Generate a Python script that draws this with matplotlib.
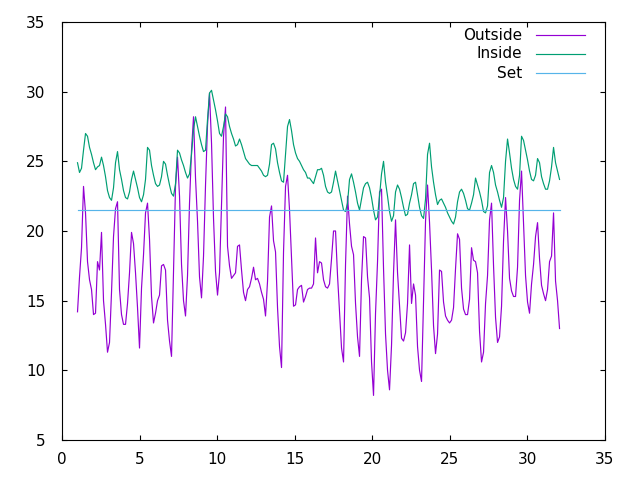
import numpy as np
import matplotlib
matplotlib.use("Agg")
import matplotlib.pyplot as plt
from matplotlib.lines import Line2D

# temperatures, one sample every ~0.13 time units
outside = [
    14.2, 16.7, 18.8, 23.2, 21.3, 17.8, 16.5, 15.8, 14.0, 14.1,
    17.8, 17.2, 19.9, 15.0, 13.3, 11.3, 12.0, 15.6, 19.6, 21.6,
    22.1, 15.8, 14.0, 13.3, 13.3, 14.8, 17.0, 19.9, 19.1, 17.0,
    14.5, 11.6, 15.9, 18.3, 21.3, 22.0, 19.4, 15.3, 13.4,
    14.1, 15.0, 15.4, 17.5, 17.6, 17.2, 13.6, 12.1, 11.0, 17.1,
    23.2, 25.3, 22.5, 17.6, 15.0, 13.9, 16.8, 22.0, 25.8, 28.2,
    23.8, 20.7, 16.7, 15.2, 18.2, 23.3, 27.6, 29.9, 26.3, 20.9,
    17.1, 15.4, 17.0, 21.9, 26.8, 28.9, 18.9, 17.5, 16.6, 16.8,
    17.0, 18.9, 19.0, 17.2, 15.6, 15.0, 15.8, 16.0, 16.6, 17.4,
    16.5, 16.6, 16.2, 15.6, 15.1, 13.9, 16.4, 21.0, 21.8, 19.3,
    18.5, 14.5, 11.7, 10.2, 18.5, 23.2, 24.0, 21.5, 18.0, 14.6,
    14.7, 15.8, 16.0, 16.1, 14.9, 15.3, 15.8, 15.9, 15.9, 16.2,
    19.5, 17.0, 17.8, 17.7, 16.5, 16.0, 15.9, 16.2, 18.0, 20.0,
    20.0, 16.8, 14.2, 11.6, 10.6, 17.6, 22.5, 20.5, 18.9, 18.3,
    14.8, 12.4, 11.0, 16.5, 19.6, 19.5, 16.7, 15.2, 10.6, 8.2,
    14.1, 17.8, 22.8, 23.0, 17.3, 12.6, 10.0, 8.6, 11.8, 17.0,
    20.8, 17.0, 14.6, 12.3, 12.1, 12.7, 14.8, 19.0, 14.8, 16.2,
    15.4, 11.7, 10.0, 9.2, 14.8, 20.7, 23.3, 20.6, 17.2, 13.2,
    11.2, 12.6, 17.2, 17.1, 14.9, 13.9, 13.6, 13.4, 13.6, 14.5,
    17.3, 19.8, 19.4, 15.9, 14.4, 14.0, 14.0, 15.1, 18.8, 17.9,
    17.8, 17.0, 12.8, 10.6, 11.3, 14.8, 16.8, 20.8, 22.0, 17.5,
    13.8, 12.0, 12.4, 14.6, 19.3, 22.4, 20.0, 16.6, 15.7, 15.3,
    15.3, 17.4, 22.2, 24.3, 20.5, 16.8, 14.9, 14.1, 16.2, 17.6,
    19.6, 20.6, 18.0, 16.1, 15.5, 15.0, 15.8, 17.8, 18.2, 21.3,
    16.4, 15.0, 13.0,
]

inside = [
    24.9, 24.2, 24.5, 25.8, 27.0, 26.8, 26.0, 25.5, 24.9, 24.4,
    24.6, 24.7, 25.3, 24.7, 23.9, 22.9, 22.4, 22.2, 23.1, 24.9,
    25.7, 24.4, 23.7, 22.9, 22.4, 22.3, 22.8, 23.7, 24.3, 23.7,
    23.1, 22.4, 22.1, 22.6, 23.7, 26.0, 25.8, 24.7, 24.0,
    23.4, 23.2, 23.3, 23.9, 25.0, 24.8, 24.0, 23.3, 22.7, 22.5,
    23.4, 25.8, 25.6, 25.1, 24.7, 24.2, 23.8, 24.1, 25.5, 27.3,
    28.2, 27.5, 26.8, 26.2, 25.7, 25.8, 28.0, 29.9, 30.1, 29.4,
    28.7, 27.9, 27.0, 26.8, 27.5, 28.4, 28.2, 27.5, 27.0, 26.6,
    26.1, 26.2, 26.6, 26.2, 25.7, 25.2, 25.0, 24.8, 24.7, 24.7,
    24.7, 24.7, 24.5, 24.3, 24.0, 23.9, 24.0, 24.8, 26.2, 26.3,
    25.9, 24.9, 24.2, 23.6, 23.5, 25.5, 27.5, 28.0, 27.2, 26.2,
    25.6, 25.2, 25.0, 24.7, 24.4, 24.2, 23.8, 23.8, 23.6, 23.4,
    23.9, 24.4, 24.4, 24.5, 24.0, 23.2, 22.8, 22.7, 22.8, 23.5,
    24.3, 23.6, 22.9, 22.2, 21.5, 21.4, 22.0, 23.7, 24.1, 23.5,
    22.8, 22.0, 21.5, 22.3, 23.1, 23.4, 23.5, 23.1, 22.4, 21.5,
    20.8, 21.0, 22.5, 24.1, 25.0, 23.5, 22.5, 21.4, 20.7, 21.1,
    22.8, 23.3, 23.0, 22.4, 21.7, 21.1, 21.2, 22.0, 22.6, 23.4,
    23.5, 22.6, 21.7, 21.1, 20.9, 22.3, 25.5, 26.3, 24.6, 23.5,
    22.6, 21.9, 22.2, 22.3, 22.0, 21.7, 21.3, 21.0, 20.7, 20.5,
    21.0, 22.1, 22.8, 23.0, 22.7, 22.2, 21.6, 21.5, 22.0, 22.6,
    23.8, 23.3, 22.8, 22.2, 21.4, 21.3, 21.8, 24.2, 24.7, 24.2,
    23.3, 22.8, 22.2, 21.7, 22.4, 25.0, 26.6, 25.6, 24.5, 23.7,
    23.2, 23.0, 24.0, 26.8, 26.5, 25.8, 25.1, 24.3, 23.7, 23.6,
    24.0, 25.2, 24.9, 23.9, 23.4, 23.0, 23.0, 23.6, 24.6, 26.0,
    24.9, 24.3, 23.7,
]

set_temp = 21.5
t_start, t_end = 1.0, 32.07

time = np.linspace(t_start, t_end, len(outside))

fig = plt.figure(figsize=(6.4, 4.8), dpi=100)
ax = fig.add_axes([62 / 640, 40 / 480, 543 / 640, 418 / 480])

series = [
    ("Outside", time, outside, "#9400d3"),
    ("Inside", time, inside, "#009e73"),
    ("Set", [t_start, t_end], [set_temp, set_temp], "#56b4e9"),
]
for name, xs, ys, col in series:
    ax.plot(xs, ys, color=col, lw=0.85)

ax.set_xlim(0, 35)
ax.set_ylim(5, 35)
ax.set_xticks(range(0, 36, 5))
ax.set_yticks(range(5, 36, 5))
ax.tick_params(direction="in", length=3.5, width=0.8, top=True, right=True,
               labelsize=11)
ax.tick_params(axis="x", pad=9)
ax.tick_params(axis="y", pad=12)
for sp in ax.spines.values():
    sp.set_linewidth(0.8)

# gnuplot-style key: label right-aligned, sample line to its right
for i, (name, xs, ys, col) in enumerate(series):
    y = (440 - (35 + 19 * i)) / 418
    ax.text((522 - 62) / 543, y, name, transform=ax.transAxes,
            ha="right", va="center", fontsize=11)
    ax.add_line(Line2D([(536 - 62) / 543, (585 - 62) / 543], [y, y],
                       transform=ax.transAxes, color=col, lw=0.85))

fig.savefig("out.png", dpi=100)
